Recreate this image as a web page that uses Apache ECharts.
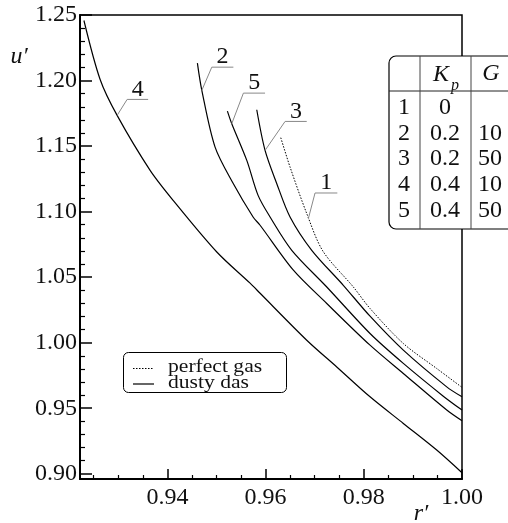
<!DOCTYPE html>
<html>
<head>
<meta charset="utf-8">
<script src="https://cdn.jsdelivr.net/npm/echarts@6/dist/echarts.min.js"></script>
<style>
  html, body { margin: 0; padding: 0; background: #fff; }
  #chart { width: 508px; height: 523px; }
</style>
</head>
<body>
<div id="chart"></div>
<script>
// curves, [r', u']
const curve1 = [[0.96309, 1.1564], [0.96498, 1.1340], [0.96838, 1.0985], [0.97170, 1.0697], [0.97787, 1.0425],
  [0.98127, 1.0261], [0.98805, 0.9994], [0.99485, 0.9803], [1.0, 0.9659]];
const curve2 = [[0.94611, 1.2133], [0.94701, 1.1925], [0.94971, 1.1492], [0.95338, 1.1216], [0.95745, 1.0959],
  [0.95888, 1.0896], [0.96566, 1.0553], [0.97246, 1.0299], [0.98127, 0.9981], [0.98805, 0.9765],
  [0.99689, 0.9486], [1.0, 0.9404]];
const curve3 = [[0.95820, 1.1777], [0.95989, 1.1467], [0.96228, 1.1213], [0.96498, 1.0959], [0.96940, 1.0705],
  [0.97583, 1.0438], [0.98127, 1.0202], [0.98805, 0.9943], [0.99689, 0.9663], [1.0, 0.9587]];
const curve4 = [[0.92300, 1.2458], [0.92630, 1.2008], [0.92976, 1.1734], [0.93648, 1.1315], [0.94117, 1.1086],
  [0.95006, 1.0692], [0.95684, 1.0454], [0.95888, 1.0377], [0.96838, 1.0019], [0.97455, 0.9813],
  [0.98127, 0.9587], [0.98805, 0.9384], [0.99485, 0.9181], [1.0, 0.9008]];
const curve5 = [[0.95222, 1.1767], [0.95311, 1.1671], [0.95617, 1.1391], [0.95847, 1.1124], [0.96091, 1.0959],
  [0.96533, 1.0705], [0.97246, 1.0425], [0.98127, 1.0070], [0.98805, 0.9842], [0.99619, 0.9592], [1.0, 0.9486]];

// curve number labels: point on curve, elbow, end of underline
const labelNames = ['1', '2', '3', '4', '5'];
const labelOnCurve = [[0.96871, 1.0947], [0.94701, 1.1925], [0.95989, 1.1467], [0.92976, 1.1734], [0.95311, 1.1671]];
const labelElbow = [[0.97007, 1.1142], [0.94904, 1.2102], [0.96397, 1.1688], [0.93180, 1.1856], [0.95548, 1.1904]];
const labelEnd = [[0.97461, 1.1142], [0.95344, 1.2102], [0.96838, 1.1688], [0.93608, 1.1856], [0.95989, 1.1904]];

// ticks
const xMajor = [0.94, 0.96, 0.98, 1.00];
const xMinor = [0.925, 0.93, 0.935, 0.945, 0.95, 0.955, 0.965, 0.97, 0.975, 0.985, 0.99, 0.995];
const yMajor = [0.90, 0.95, 1.00, 1.05, 1.10, 1.15, 1.20, 1.25];
const yMinor = [0.91, 0.92, 0.93, 0.94, 0.96, 0.97, 0.98, 0.99, 1.01, 1.02, 1.03, 1.04, 1.06, 1.07, 1.08, 1.09,
  1.11, 1.12, 1.13, 1.14, 1.16, 1.17, 1.18, 1.19, 1.21, 1.22, 1.23, 1.24];

// parameter table
const tableNo = ['1', '2', '3', '4', '5'];
const tableKp = ['0', '0.2', '0.2', '0.4', '0.4'];
const tableG = ['', '10', '50', '10', '50'];

// legend entries
const legendNames = ['perfect gas', 'dusty das'];
const legendDash = [[1.5, 1.5], null];

const FONT = 'Liberation Serif';

const chart = echarts.init(document.getElementById('chart'));

function curveSeries(name, data, dotted) {
  return {
    type: 'line', name: name, data: data, symbol: 'none', smooth: 0.3, color: '#000',
    lineStyle: { color: '#000', width: dotted ? 1 : 1.2, type: dotted ? [1.5, 1.5] : 'solid' },
    z: 3, silent: true
  };
}

function axisBase(min, max) {
  return { type: 'value', min: min, max: max, splitLine: { show: false } };
}

function txt(x, y, text, size, italic, z) {
  return { type: 'text', x: x, y: y, z: z || 5,
    style: { text: text, fontFamily: FONT, fontSize: size, fontStyle: italic ? 'italic' : 'normal',
      fill: '#111', align: 'center', verticalAlign: 'middle' } };
}

chart.setOption({
  animation: false,
  grid: { left: 80, top: 15, right: 46, bottom: 44, show: true, borderColor: '#000', borderWidth: 1.5 },
  xAxis: [
    Object.assign(axisBase(0.9222, 1.0), {
      position: 'bottom',
      axisLine: { lineStyle: { color: '#000', width: 2 } },
      axisTick: { inside: true, length: 10, customValues: xMajor, lineStyle: { color: '#000', width: 1.5 } },
      axisLabel: { customValues: xMajor, formatter: v => v.toFixed(2), fontFamily: FONT, fontSize: 24, color: '#111', margin: 7 }
    }),
    Object.assign(axisBase(0.9222, 1.0), {
      position: 'bottom',
      axisLine: { show: false },
      axisTick: { inside: true, length: 4, customValues: xMinor, lineStyle: { color: '#000', width: 1.2 } },
      axisLabel: { show: false }
    })
  ],
  yAxis: [
    Object.assign(axisBase(0.896, 1.25), {
      position: 'left',
      axisLine: { lineStyle: { color: '#000', width: 2 } },
      axisTick: { inside: true, length: 12, customValues: yMajor, lineStyle: { color: '#000', width: 1.5 } },
      axisLabel: { customValues: yMajor, formatter: v => v.toFixed(2), fontFamily: FONT, fontSize: 24, color: '#111', margin: 3 }
    }),
    Object.assign(axisBase(0.896, 1.25), {
      position: 'left',
      axisLine: { show: false },
      axisTick: { inside: true, length: 5, customValues: yMinor, lineStyle: { color: '#000', width: 1.2 } },
      axisLabel: { show: false }
    })
  ],
  series: [
    curveSeries('perfect gas', curve1, true),
    curveSeries('dusty das', curve2, false),
    curveSeries('dusty das', curve3, false),
    curveSeries('dusty das', curve4, false),
    curveSeries('dusty das', curve5, false)
  ]
});

// leaders, labels, legend, table and axis names
const gfx = [];
labelNames.forEach(function (name, i) {
  const p0 = chart.convertToPixel({ gridIndex: 0 }, labelOnCurve[i]);
  const p1 = chart.convertToPixel({ gridIndex: 0 }, labelElbow[i]);
  const p2 = chart.convertToPixel({ gridIndex: 0 }, labelEnd[i]);
  gfx.push({ type: 'polyline', shape: { points: [p0, p1, p2] }, style: { stroke: '#888', lineWidth: 1, fill: null }, z: 5 });
  gfx.push(txt((p1[0] + p2[0]) / 2, p1[1] - 10, name, 24, false));
});

// legend box (text tight and a bit wide, as in the figure)
gfx.push({ type: 'rect', shape: { x: 123.5, y: 352.5, width: 163, height: 40, r: 5 },
  style: { fill: '#fff', stroke: '#000', lineWidth: 1 }, z: 8 });
legendNames.forEach(function (name, i) {
  const y = 367.5 + i * 15.5;
  gfx.push({ type: 'line', shape: { x1: 133, y1: y + 1, x2: 154, y2: y + 1 }, z: 9,
    style: { stroke: '#000', lineWidth: 1.2, lineDash: legendDash[i] } });
  gfx.push({ type: 'text', x: 168, y: y, scaleX: 1.2, z: 9,
    style: { text: name, fontFamily: FONT, fontSize: 18, fill: '#111', align: 'left', verticalAlign: 'middle' } });
});

const tLeft = 389, tTop = 56, tBottom = 229, headLine = 91, col1 = 420, col2 = 471;
gfx.push({ type: 'rect', shape: { x: tLeft, y: tTop, width: 140, height: tBottom - tTop, r: [7, 0, 0, 7] },
  style: { fill: '#fff', stroke: '#000', lineWidth: 1.2 }, z: 10 });
gfx.push({ type: 'line', shape: { x1: tLeft, y1: headLine, x2: 508, y2: headLine }, style: { stroke: '#222', lineWidth: 1 }, z: 11 });
gfx.push({ type: 'line', shape: { x1: col1, y1: tTop, x2: col1, y2: tBottom }, style: { stroke: '#444', lineWidth: 1 }, z: 11 });
gfx.push({ type: 'line', shape: { x1: col2, y1: tTop, x2: col2, y2: tBottom }, style: { stroke: '#444', lineWidth: 1 }, z: 11 });
gfx.push(txt(441, 75, 'K', 24, true, 12));
gfx.push(txt(455, 86, 'p', 16, true, 12));
gfx.push(txt(491, 74, 'G', 24, true, 12));
tableNo.forEach(function (n, i) {
  const y = 108 + i * 25.6;
  gfx.push(txt(404, y, n, 24, false, 12));
  gfx.push(txt(445, y, tableKp[i], 24, false, 12));
  gfx.push(txt(490, y, tableG[i], 24, false, 12));
});

gfx.push(txt(19, 57, 'u\u2032', 24, true));
gfx.push(txt(421, 514, 'r\u2032', 24, true));

chart.setOption({ graphic: gfx });
</script>
</body>
</html>
